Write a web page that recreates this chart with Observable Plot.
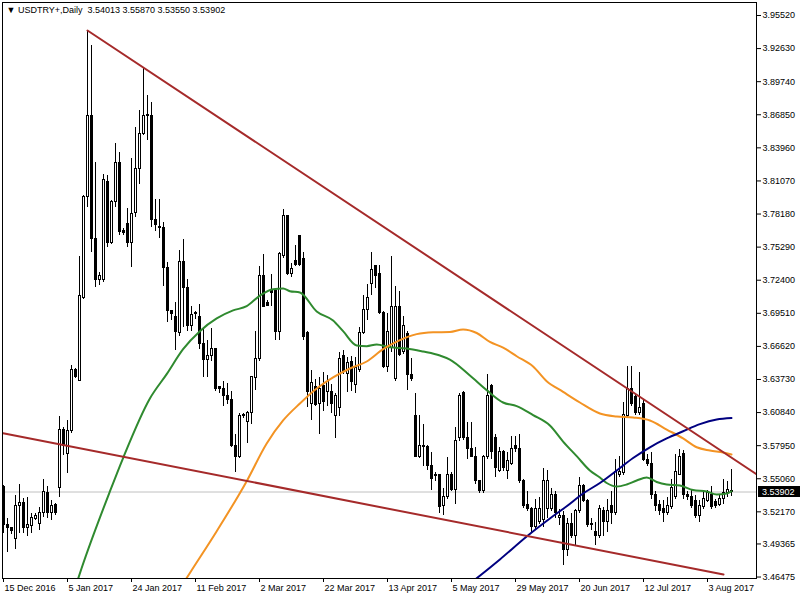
<!DOCTYPE html>
<html><head><meta charset="utf-8">
<script src="https://cdn.jsdelivr.net/npm/d3@7"></script>
<script src="https://cdn.jsdelivr.net/npm/@observablehq/plot@0.6"></script>
<style>body{margin:0;background:#fff;} svg{display:block}</style>
</head><body><div id="chart"></div>
<script>
const symbol = "USDTRY+,Daily";
const open = [3.5430,3.5098,3.5072,3.4984,3.5264,3.5290,3.5072,3.5090,3.5151,3.5107,
3.5203,3.5378,3.5203,3.5281,3.5421,3.5928,3.5718,3.5919,3.6460,3.6364,
3.7089,3.7971,3.8670,3.7604,3.7238,3.7246,3.8102,3.7561,3.7919,3.8260,
3.7674,3.7735,3.7561,3.7823,3.8207,3.8513,3.8687,3.8670,3.7762,3.7709,
3.7700,3.7343,3.6967,3.6923,3.6783,3.7395,3.7168,3.6836,3.6941,3.6923,
3.6687,3.6539,3.6574,3.6635,3.6303,3.6294,3.6225,3.6198,3.5796,3.5700,
3.6050,3.6006,3.6076,3.6382,3.6556,3.7281,3.7037,3.7142,3.7142,3.6792,
3.7448,3.7797,3.7290,3.7404,3.7622,3.7421,3.6775,3.6155,3.6303,3.6155,
3.6312,3.6268,3.6268,3.6050,3.6128,3.6574,3.6417,3.6530,3.6329,3.6452,
3.6783,3.6984,3.7203,3.7360,3.7290,3.6958,3.6486,3.6644,3.6373,3.7010,
3.6609,3.6766,3.6408,3.6050,3.5700,3.5796,3.5779,3.5613,3.5543,3.5535,
3.5264,3.5343,3.5535,3.5404,3.5858,3.6251,3.5858,3.5762,3.5700,3.5482,
3.5395,3.5692,3.6312,3.5858,3.5578,3.5736,3.5578,3.5639,3.5796,3.5762,
3.5482,3.5281,3.5238,3.5081,3.5124,3.5142,3.5246,3.5246,3.5360,3.5159,
3.5185,3.4880,3.5107,3.5002,3.5220,3.5439,3.5316,3.5107,3.5045,3.5002,
3.5220,3.5124,3.5264,3.5211,3.5543,3.5552,3.6050,3.6294,3.6216,3.6076,
3.6155,3.5674,3.5639,3.5360,3.5281,3.5238,3.5203,3.5255,3.5343,3.5543,
3.5718,3.5360,3.5343,3.5316,3.5185,3.5255,3.5316,3.5360,3.5299,3.5281,
3.5325,3.5378,3.54013];
const high = [3.5447,3.5159,3.5081,3.5360,3.5456,3.5334,3.5343,3.5203,3.5203,3.5255,
3.5499,3.5439,3.5316,3.5290,3.6050,3.5954,3.6015,3.6495,3.6469,3.7448,
3.7980,3.9421,3.9290,3.8269,3.7308,3.8163,3.8155,3.7936,3.8434,3.8356,
3.7692,3.7866,3.8303,3.8574,3.8722,3.9089,3.8853,3.8793,3.7945,3.7945,
3.7744,3.7395,3.6975,3.7045,3.7500,3.7596,3.7246,3.7010,3.6965,3.7028,
3.6827,3.6714,3.6818,3.6640,3.6312,3.6355,3.6338,3.6268,3.5893,3.6076,
3.6076,3.6093,3.6395,3.6792,3.7360,3.7465,3.7063,3.7290,3.7150,3.7483,
3.7858,3.7805,3.7386,3.7543,3.7630,3.7483,3.6792,3.6452,3.6373,3.6391,
3.6434,3.6408,3.6329,3.6251,3.6609,3.6626,3.6565,3.6574,3.6565,3.6827,
3.7106,3.7203,3.7483,3.7369,3.7369,3.6967,3.6950,3.7448,3.7185,3.7142,
3.6923,3.6792,3.6556,3.6251,3.6059,3.5980,3.5796,3.5736,3.5561,3.5543,
3.5421,3.5692,3.5561,3.5954,3.6251,3.6268,3.5997,3.5997,3.5779,3.5490,
3.5709,3.6417,3.6329,3.5893,3.5779,3.5753,3.5736,3.5875,3.5875,3.5893,
3.5500,3.5395,3.5255,3.5325,3.5343,3.5596,3.5578,3.5421,3.5395,3.5238,
3.5220,3.5159,3.5203,3.5238,3.5517,3.5456,3.5325,3.5159,3.5124,3.5272,
3.5255,3.5325,3.5395,3.5674,3.5700,3.6172,3.6486,3.6486,3.6251,3.6434,
3.6198,3.5718,3.5736,3.5395,3.5316,3.5316,3.5343,3.5500,3.5718,3.5762,
3.5753,3.5395,3.5404,3.5360,3.5316,3.5404,3.5404,3.5439,3.5325,3.5360,
3.5500,3.5482,3.55870];
const low = [3.5028,3.4863,3.5019,3.4888,3.5028,3.5028,3.5002,3.5028,3.5142,3.5054,
3.5168,3.5159,3.5142,3.5185,3.5343,3.5709,3.5552,3.5902,3.6382,3.6355,
3.7072,3.7875,3.7483,3.7177,3.7194,3.7220,3.7526,3.7552,3.7875,3.7631,
3.7631,3.7526,3.7351,3.7788,3.8076,3.8504,3.8460,3.7700,3.7665,3.7604,
3.7185,3.6871,3.6888,3.6626,3.6748,3.6827,3.6792,3.6792,3.6897,3.6635,
3.6391,3.6391,3.6530,3.6268,3.6251,3.6137,3.6155,3.5780,3.5561,3.5683,
3.6032,3.5814,3.5980,3.6277,3.6530,3.7000,3.7010,3.7010,3.6714,3.6714,
3.7430,3.7281,3.7264,3.7360,3.7360,3.6714,3.6128,3.6015,3.6137,3.5893,
3.6093,3.6137,3.6076,3.5858,3.6050,3.6417,3.6260,3.6268,3.6251,3.6434,
3.6766,3.6888,3.7106,3.7168,3.6940,3.6469,3.6434,3.6609,3.6355,3.6574,
3.6591,3.6277,3.6355,3.5690,3.5683,3.5613,3.5578,3.5404,3.5482,3.5203,
3.5185,3.5325,3.5395,3.5281,3.5832,3.5840,3.5674,3.5692,3.5456,3.5378,
3.5378,3.5674,3.5674,3.5517,3.5561,3.5569,3.5500,3.5622,3.5736,3.5465,
3.5246,3.5220,3.5037,3.5063,3.5107,3.5081,3.5159,3.5220,3.5159,3.5098,
3.4749,3.4827,3.4984,3.4923,3.5203,3.5299,3.5081,3.5054,3.4923,3.4984,
3.5002,3.5037,3.5107,3.5185,3.5517,3.5535,3.6032,3.6137,3.6059,3.6059,
3.5657,3.5613,3.5325,3.5220,3.5185,3.5124,3.5185,3.5238,3.5325,3.5535,
3.5325,3.5316,3.5246,3.5159,3.5124,3.5238,3.5299,3.5238,3.5246,3.5264,
3.5281,3.5343,3.53550];
const close = [3.5098,3.5072,3.5054,3.5272,3.5290,3.5072,3.5098,3.5159,3.5185,3.5203,
3.5387,3.5203,3.5272,3.5211,3.5928,3.5796,3.5919,3.6460,3.6391,3.7098,
3.7971,3.8670,3.7604,3.7238,3.7281,3.8111,3.7561,3.7919,3.8260,3.7665,
3.7648,3.7561,3.7814,3.8207,3.8513,3.8670,3.8670,3.7762,3.7718,3.7700,
3.7343,3.6967,3.6941,3.6792,3.7395,3.7168,3.6844,3.6932,3.6955,3.6687,
3.6539,3.6574,3.6635,3.6294,3.6294,3.6225,3.6198,3.5788,3.5700,3.6050,
3.6059,3.6076,3.6391,3.6556,3.7281,3.7010,3.7019,3.7124,3.6792,3.7465,
3.7797,3.7290,3.7334,3.7369,3.7369,3.6748,3.6268,3.6338,3.6146,3.6294,
3.6172,3.6355,3.6155,3.6233,3.6556,3.6434,3.6513,3.6355,3.6469,3.6783,
3.6984,3.7089,3.7325,3.7281,3.6950,3.6486,3.6792,3.7010,3.7010,3.6591,
3.6844,3.6408,3.6373,3.5700,3.5796,3.5779,3.5613,3.5500,3.5526,3.5255,
3.5343,3.5535,3.5404,3.5840,3.6233,3.5858,3.5762,3.5700,3.5482,3.5395,
3.5692,3.6233,3.5736,3.5596,3.5736,3.5596,3.5657,3.5762,3.5770,3.5482,
3.5264,3.5238,3.5081,3.5246,3.5246,3.5482,3.5482,3.5360,3.5203,3.5185,
3.4880,3.5107,3.5002,3.5220,3.5439,3.5316,3.5098,3.5098,3.5002,3.5246,
3.5124,3.5220,3.5211,3.5561,3.5561,3.6059,3.6294,3.6155,3.6076,3.6128,
3.5674,3.5639,3.5360,3.5264,3.5220,3.5211,3.5264,3.5421,3.5561,3.5700,
3.5360,3.5343,3.5264,3.5185,3.5264,3.5325,3.5378,3.5255,3.5264,3.5325,
3.5378,3.5404,3.53902];

const xTickIdx = [0,16,32,48,64,80,96,112,128,144,160,176];
const xTickLabels = ["15 Dec 2016","5 Jan 2017","24 Jan 2017","11 Feb 2017","2 Mar 2017","22 Mar 2017","13 Apr 2017","5 May 2017","29 May 2017","20 Jun 2017","12 Jul 2017","3 Aug 2017"];
const yTicks = [3.95520,3.92630,3.89740,3.86850,3.83960,3.81070,3.78180,3.75290,3.72400,3.69510,3.66620,3.63730,3.60840,3.57950,3.55060,3.52170,3.49365,3.46475];

const greenX = [18.1,19.5,26.6,29.9,36.6,40.8,44.9,49.1,53.3,57.4,60.8,64.1,67.4,69.9,71.6,74.1,78.3,82.4,84.9,88.3,90.8,93.3,96.6,100.8,104.9,109.1,111.6,116.6,120.8,124.9,128.3,132.4,136.6,139.9,143.3,146.6,149.1,150.8,153.3,155.8,158.3,160.8,163.3,165.8,169.1,172.4,175.8,178.3,180.8,182];
const greenY = [3.4574,3.4722,3.5395,3.5687,3.6207,3.6420,3.6638,3.6795,3.6906,3.6976,3.7013,3.7106,3.7162,3.7168,3.7144,3.7133,3.6967,3.6888,3.6795,3.6670,3.6664,3.6679,3.6654,3.6644,3.6617,3.6582,3.6547,3.6408,3.6280,3.6172,3.6140,3.6062,3.5971,3.5831,3.5703,3.5578,3.5517,3.5469,3.5438,3.5456,3.5491,3.5517,3.5478,3.5456,3.5447,3.5407,3.5395,3.5369,3.5377,3.5397];
const orangeX = [44.6,47.0,53.3,60.8,65.8,69.9,74.1,78.3,82.4,86.6,90.8,94.9,99.1,103.3,107.4,111.6,114.9,118.3,121.6,124.9,128.3,132.4,135.8,139.9,144.1,149.1,153.3,157.4,161.6,165.8,169.9,173.3,176.6,179.9,182];
const orangeY = [3.4574,3.4705,3.5048,3.5485,3.5814,3.6015,3.6163,3.6294,3.6391,3.6469,3.6530,3.6638,3.6717,3.6769,3.6785,3.6788,3.6810,3.6779,3.6701,3.6652,3.6576,3.6486,3.6358,3.6265,3.6172,3.6076,3.6050,3.6041,3.6015,3.5936,3.5858,3.5781,3.5753,3.5735,3.5718];
const navyX = [116,117.9,124.1,130.8,136.6,140.8,144.9,149.1,153.3,157.4,161.6,165.8,169.9,174.1,178.3,182];
const navyY = [3.4574,3.4626,3.4801,3.5002,3.5159,3.5266,3.5377,3.5469,3.5578,3.5687,3.5781,3.5858,3.5921,3.5983,3.6024,3.6037];
const upperTrendX = [21, 188.25];
const upperTrendY = [3.9421, 3.5546];
const lowerTrendX = [-0.1, 180];
const lowerTrendY = [3.5904, 3.4670];

const candles = open.map((o, i) => ({i, open: o, high: high[i], low: low[i], close: close[i]}));
const last = candles[candles.length - 1];
const pts = (xs, ys) => xs.map((x, k) => ({x, y: ys[k]}));
const title = `\u25BC ${symbol}  ${last.open.toFixed(5)} ${last.high.toFixed(5)} ${last.low.toFixed(5)} ${last.close.toFixed(5)}`;

const plot = Plot.plot({
  width: 800, height: 600,
  marginLeft: 2, marginRight: 44, marginTop: 2, marginBottom: 22,
  style: {fontFamily: "'Liberation Sans', Arial, sans-serif", fontSize: "9px", background: "white", color: "black", overflow: "visible"},
  x: {type: "linear", domain: [-0.25, 188.25], axis: "bottom", ticks: xTickIdx,
      tickFormat: d => xTickLabels[xTickIdx.indexOf(d)], tickSize: 4, tickPadding: 2, label: null},
  y: {type: "linear", domain: [3.46348, 3.96655], axis: "right", ticks: yTicks,
      tickFormat: d => d.toFixed(5), tickSize: 4, tickPadding: 2, label: null},
  marks: [
    Plot.ruleY([last.close], {stroke: "#c0c0c0"}),
    Plot.ruleX(candles, {x: "i", y1: "low", y2: "high", stroke: "black", shapeRendering: "crispEdges"}),
    Plot.rect(candles, {x1: d => d.i - 0.25, x2: d => d.i + 0.25, y1: "open", y2: "close",
      fill: d => d.close >= d.open ? "white" : "black", stroke: "black", shapeRendering: "crispEdges"}),
    Plot.line(pts(greenX, greenY), {x: "x", y: "y", stroke: "#2f8a2f", strokeWidth: 2, curve: "monotone-x", clip: true}),
    Plot.line(pts(orangeX, orangeY), {x: "x", y: "y", stroke: "#f39323", strokeWidth: 2, curve: "monotone-x", clip: true}),
    Plot.line(pts(navyX, navyY), {x: "x", y: "y", stroke: "#000080", strokeWidth: 2, curve: "monotone-x", clip: true}),
    Plot.line(pts(upperTrendX, upperTrendY), {x: "x", y: "y", stroke: "#a52a2a", strokeWidth: 2, clip: true}),
    Plot.line(pts(lowerTrendX, lowerTrendY), {x: "x", y: "y", stroke: "#a52a2a", strokeWidth: 2, clip: true}),
    Plot.text([title], {frameAnchor: "top-left", dx: 4, dy: 4, lineAnchor: "top", textAnchor: "start", fill: "black", fontSize: 9}),
    Plot.frame({stroke: "black"})
  ]
});

document.getElementById("chart").appendChild(plot);

const svg = d3.select(plot);
svg.selectAll('[aria-label^="x-axis"] text').attr("text-anchor", "start").attr("dx", "1");
const py = plot.scale("y").apply(last.close);
svg.append("rect").attr("x", 758).attr("y", py - 5.5).attr("width", 42).attr("height", 11).attr("fill", "black");
svg.append("text").attr("x", 762).attr("y", py).attr("dy", "0.35em").attr("fill", "white")
  .attr("text-anchor", "start")
  .attr("font-size", 9).attr("font-family", "'Liberation Sans', Arial, sans-serif").text(last.close.toFixed(5));
</script>
</body></html>
